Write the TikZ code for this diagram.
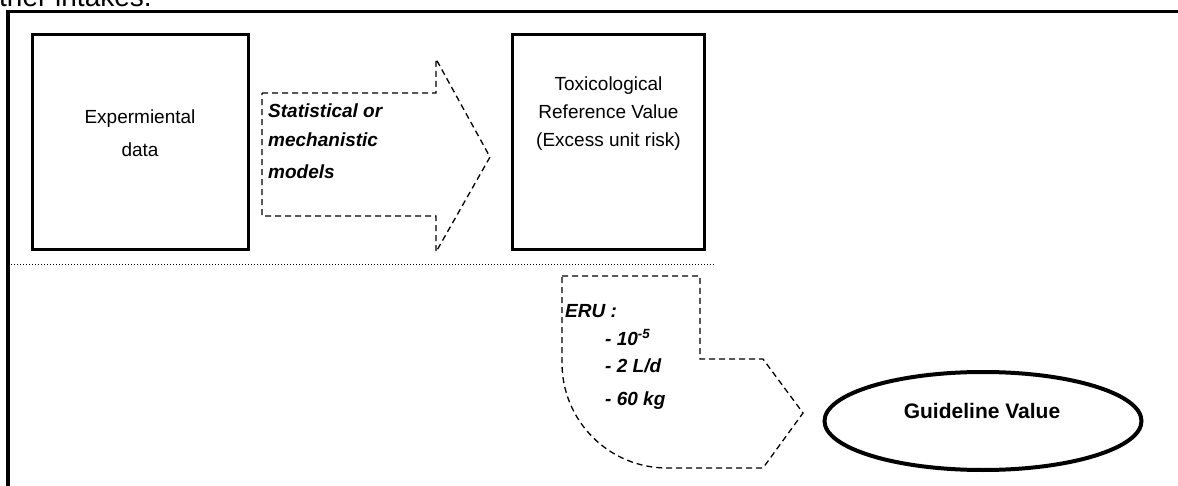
\documentclass[tikz,border=0pt]{standalone}
\usepackage{fontspec}
\setmainfont{Liberation Sans}
\usetikzlibrary{shapes.geometric}
\tikzset{
 box/.style={draw,line width=3pt,minimum width=216pt,minimum height=215pt,inner sep=0pt},
 note/.style={inner sep=0pt,anchor=base,font=\fontsize{19}{22}\selectfont},
 model/.style={inner sep=0pt,anchor=base west,font=\fontsize{19}{22}\selectfont\bfseries\itshape},
 flow/.style={draw,dash pattern=on 6pt off 4pt,line width=1.3pt},
 goal/.style={draw,ellipse,line width=4pt,minimum width=317pt,minimum height=98pt,inner sep=0pt}
}
\begin{document}
\begin{tikzpicture}[x=1pt,y=-1pt]
\useasboundingbox (0,0) rectangle (1178,486);
\node[inner sep=0pt,anchor=base west,font=\fontsize{28}{30}\selectfont] (page) at (-1,7) {ther intakes.};
\draw[line width=3.5pt] (8,492) -- (8,11.5) -- (1182,11.5);
\node[box] (data) at (140,142.5) {};
\node[note] (data1) at (140,124) {Expermiental};
\node[note] (data2) at (140,157) {data};
\draw[flow] (262,93) -- (436,93) -- (436,59) -- (490,157) -- (436,252) -- (436,216) -- (262,216) -- cycle;
\node[model] (stat) at (268,118) {Statistical or};
\node[model] (mech) at (268,147) {mechanistic};
\node[model] (mod) at (268,179) {models};
\node[box,minimum width=192pt] (trv) at (608.5,142.5) {};
\node[note] (trv1) at (608.5,91) {Toxicological};
\node[note] (trv2) at (608.5,119) {Reference Value};
\node[note] (trv3) at (608.5,147) {(Excess unit risk)};
\draw[dotted,line width=1pt] (11,265) -- (715,265);
\draw[flow] (562,276) -- (700,276) -- (700,359) -- (763,359) -- (803,413) -- (763,468) -- (667,468) .. controls (609,468) and (562,421) .. (562,363) -- cycle;
\node[model] (eru) at (565,317) {ERU :};
\node[model] (eru1) at (605,345) {- 10\textsuperscript{-5}};
\node[model] (eru2) at (605,372) {- 2 L/d};
\node[model] (eru3) at (605,405) {- 60 kg};
\node[goal] (gv) at (983,421) {};
\node[note,font=\fontsize{21}{24}\selectfont\bfseries] (gvtext) at (982,418) {Guideline Value};
\end{tikzpicture}
\end{document}
